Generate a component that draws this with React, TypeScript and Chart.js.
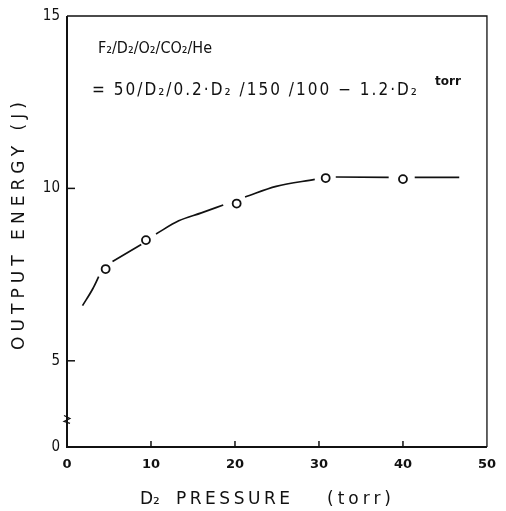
import React, { useEffect, useRef } from 'react';
import { Chart, registerables } from 'chart.js';

Chart.register(...registerables);

// Measured circles (D2 pressure in torr, output energy in J)
const pressure = [4.6, 9.4, 20.2, 30.8, 40.0];
const energy = [7.66, 8.5, 9.56, 10.3, 10.27];

// Hand-drawn smooth curve, nulls = small gaps the drafter left around circles
const fitPressure = [1.85, 3.07, 3.77, 4.6, 5.42, 8.84, 9.4, 10.6, 13.3, 16.0, 18.6, 20.2, 21.2, 24.9, 29.5, 30.8, 32.0, 38.3, 40.0, 41.4, 46.7];
const fitEnergy = [6.6, 7.09, 7.44, null, 7.88, 8.37, null, 8.68, 9.06, 9.29, 9.52, null, 9.75, 10.06, 10.26, null, 10.33, 10.32, null, 10.32, 10.32];

// Broken y axis: the lowest tick position carries the label "0"
const yTickValues = [2.5, 5, 10, 15];
const yTickLabels = ['0', '5', '10', '15'];
const xTickValues = [0, 10, 20, 30, 40, 50];
const xTickLabels = ['0', '10', '20', '30', '40', '50'];

const yTitle = 'OUTPUT ENERGY (J)';
const xTitleParts = ['D\u2082', 'PRESSURE', '(torr)'];
const noteLine1 = 'F\u2082/D\u2082/O\u2082/CO\u2082/He';
const noteLine2 = '= 50/D\u2082/0.2\u00b7D\u2082 /150 /100 \u2212 1.2\u00b7D\u2082';
const noteUnit = 'torr';

const FONT = '"DejaVu Sans", sans-serif';
const CFONT = '"DejaVu Sans Condensed", "DejaVu Sans", sans-serif';

function spread(ctx: any, text: string, x: number, y: number, target: number) {
  ctx.letterSpacing = '0px';
  const w = ctx.measureText(text).width;
  const n = Math.max(1, text.length - 1);
  const sp = (target - w) / n;
  ctx.letterSpacing = `${sp}px`;
  ctx.fillText(text, x, y);
  ctx.letterSpacing = '0px';
}

const decorPlugin = {
  id: 'decor',
  afterDatasetsDraw(chart: any) {
    const ctx = chart.ctx as CanvasRenderingContext2D;
    const { left, right, top, bottom } = chart.chartArea;
    const xs = chart.scales.x;
    const ys = chart.scales.y;
    ctx.save();
    ctx.strokeStyle = '#111';
    ctx.fillStyle = '#111';
    // frame
    ctx.lineWidth = 1.3;
    ctx.beginPath();
    ctx.moveTo(left, top);
    ctx.lineTo(right, top);
    ctx.lineTo(right, bottom);
    ctx.stroke();
    ctx.lineWidth = 2;
    ctx.beginPath();
    ctx.moveTo(left, top);
    ctx.lineTo(left, bottom);
    ctx.lineTo(right, bottom);
    ctx.stroke();
    // inward ticks
    ctx.lineWidth = 1.5;
    [5, 10].forEach((v) => {
      const y = ys.getPixelForValue(v);
      ctx.beginPath();
      ctx.moveTo(left, y);
      ctx.lineTo(left + 8, y);
      ctx.stroke();
    });
    [10, 20, 30, 40].forEach((v) => {
      const x = xs.getPixelForValue(v);
      ctx.beginPath();
      ctx.moveTo(x, bottom);
      ctx.lineTo(x, bottom - 6);
      ctx.stroke();
    });
    // axis-break mark
    const yb = ys.getPixelForValue(3.3);
    ctx.lineWidth = 1.2;
    ctx.beginPath();
    ctx.moveTo(left - 3, yb - 4);
    ctx.lineTo(left + 3, yb - 1);
    ctx.lineTo(left - 3, yb + 2);
    ctx.lineTo(left + 3, yb + 4);
    ctx.stroke();

    // y title (reads bottom to top)
    ctx.save();
    ctx.translate(20, 350);
    ctx.rotate(-Math.PI / 2);
    ctx.font = `17px ${FONT}`;
    ctx.textAlign = 'left';
    ctx.textBaseline = 'middle';
    spread(ctx, yTitle, 0, 0, 248);
    ctx.restore();

    // x title
    ctx.font = `17px ${FONT}`;
    ctx.textBaseline = 'middle';
    ctx.textAlign = 'left';
    ctx.fillText(xTitleParts[0], 140, 500);
    spread(ctx, xTitleParts[1], 176, 500, 114);
    spread(ctx, xTitleParts[2], 327, 500, 64);

    // annotation
    ctx.font = `16px ${CFONT}`;
    spread(ctx, noteLine1, 98, 49, 114);
    ctx.font = `17px ${CFONT}`;
    spread(ctx, noteLine2, 92, 91, 325);
    ctx.font = `bold 12px ${FONT}`;
    ctx.fillText(noteUnit, 435, 82);
    ctx.restore();
  },
};

export default function App() {
  const ref = useRef<HTMLCanvasElement>(null);
  useEffect(() => {
    if (!ref.current) return;
    const chart = new Chart(ref.current, {
      type: 'scatter',
      data: {
        datasets: [
          {
            label: 'measured',
            data: pressure.map((x, i) => ({ x, y: energy[i] })),
            showLine: false,
            pointRadius: 4,
            pointBorderWidth: 1.8,
            pointBorderColor: '#111',
            pointBackgroundColor: '#fff',
            order: 0,
          },
          {
            label: 'fit',
            data: fitPressure.map((x, i) => ({ x, y: fitEnergy[i] })) as any,
            showLine: true,
            spanGaps: false,
            borderColor: '#111',
            borderWidth: 1.7,
            pointRadius: 0,
            cubicInterpolationMode: 'monotone',
            order: 1,
          },
        ],
      },
      options: {
        animation: false,
        responsive: false,
        layout: { padding: { left: 0, top: 14, right: 14, bottom: 0 } },
        plugins: { legend: { display: false }, tooltip: { enabled: false } },
        scales: {
          x: {
            type: 'linear',
            min: 0,
            max: 50,
            afterBuildTicks: (s: any) => {
              s.ticks = xTickValues.map((v) => ({ value: v }));
            },
            afterFit: (s: any) => {
              s.height = 64;
            },
            grid: { display: false, drawTicks: false },
            border: { display: false },
            ticks: {
              padding: 10,
              color: '#111',
              font: { family: FONT, size: 13, weight: 'bold' },
              callback: (v: any) => xTickLabels[xTickValues.indexOf(Number(v))] ?? '',
            },
          },
          y: {
            type: 'linear',
            min: 2.5,
            max: 15,
            afterBuildTicks: (s: any) => {
              s.ticks = yTickValues.map((v) => ({ value: v }));
            },
            afterFit: (s: any) => {
              s.width = 67;
            },
            grid: { display: false, drawTicks: false },
            border: { display: false },
            ticks: {
              padding: 7,
              color: '#111',
              font: { family: CFONT, size: 15 },
              callback: (v: any) => yTickLabels[yTickValues.indexOf(Number(v))] ?? '',
            },
          },
        },
      },
      plugins: [decorPlugin],
    });
    return () => chart.destroy();
  }, []);
  return (
    <div style={{ position: 'fixed', left: 0, top: 0, width: 506, height: 511, background: '#fff' }}>
      <canvas ref={ref} width={506} height={511} style={{ width: 506, height: 511 }} />
    </div>
  );
}
